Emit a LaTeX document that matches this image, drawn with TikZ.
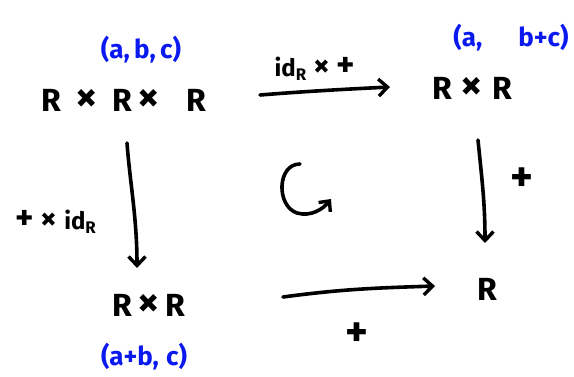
\documentclass[tikz,border=0pt]{standalone}
\usepackage{fontspec}
\setmainfont{Fira Sans}
\usetikzlibrary{arrows.meta}
\definecolor{ink}{RGB}{0,0,0}
\definecolor{pen}{RGB}{10,25,240}
\newcommand{\tms}{\scalebox{1.35}{×}}
\newcommand{\pls}{\scalebox{1.45}{+}}
\tikzset{
  obj/.style={font=\fontsize{32}{34}\selectfont\bfseries, text=ink, inner sep=0pt},
  elt/.style={font=\fontsize{26}{28}\selectfont\bfseries, text=pen, inner sep=0pt},
  lbl/.style={font=\fontsize{24}{26}\selectfont\bfseries, text=ink, inner sep=0pt},
  mor/.style={line width=3.6pt, draw=ink, line cap=round, -{Straight Barb[length=9pt,width=17pt,line width=3.4pt]}},
}
\begin{document}
\begin{tikzpicture}[x=1pt,y=-1pt]
\useasboundingbox (0,0) rectangle (574,377);
% objects
\node[obj] (A) at (124,100) {R\;\,\tms\;\,R\,\tms\;\;\;R};
\node[obj] (B) at (472,88) {R\;\tms\;R};
\node[obj] (C) at (149,305) {R\,\tms\,R};
\node[obj] (D) at (487,289) {R};
% elements
\node[elt] (ea) at (141,50) {(a,\,b,\,c)};
\node[elt] (eb) at (511,38) {(a,\;\;\;\;\;b+c)};
\node[elt] (ec) at (144,357) {(a+b,\;c)};
% morphisms
\draw[mor] ([xshift=136pt,yshift=5pt]A.center) .. controls +(50,-4) and +(-40,2) .. ([xshift=-82pt,yshift=1pt]B.center);
\draw[mor] ([xshift=3pt,yshift=-43pt]A.center) .. controls +(3,40) and +(0,-50) .. ([xshift=-12pt,yshift=37pt]C.center);
\draw[mor] ([xshift=6pt,yshift=-52pt]B.center) .. controls +(4,40) and +(0,-40) .. ([xshift=-2pt,yshift=46pt]D.center);
\draw[mor] ([xshift=134pt,yshift=8pt]C.center) .. controls +(60,-8) and +(-60,2) .. ([xshift=-52pt,yshift=3pt]D.center);
% labels
\node[lbl] (lt) at (315,69) {id\textsubscript{R}\;\tms\;\pls};
\node[lbl] (ll) at (56,222) {\pls\;\tms\;id\textsubscript{R}};
\node[lbl] (lr) at (522,180) {\scalebox{1.8}{+}};
\node[lbl] (lb) at (357,335) {\scalebox{1.8}{+}};
% commutativity symbol
\draw[line width=3.6pt, line cap=round, -{Straight Barb[length=8pt,width=15pt,line width=3.4pt]}]
  (300,164) .. controls (277,164) and (276,206) .. (297,213) .. controls (311,217) and (323,209) .. (331,199);
\end{tikzpicture}
\end{document}
